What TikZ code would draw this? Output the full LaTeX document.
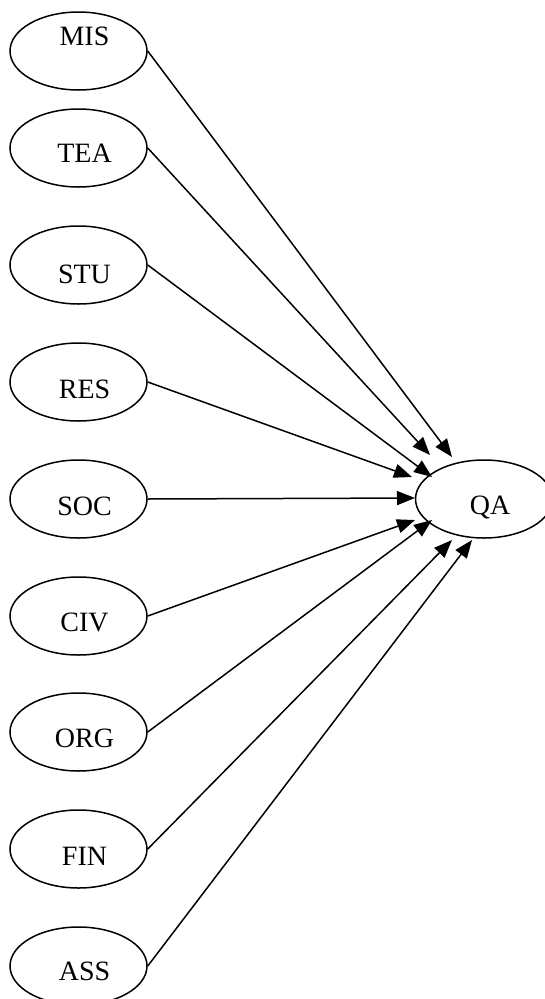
\documentclass[tikz,border=0pt]{standalone}
\usepackage{fontspec}
\setmainfont{Liberation Serif}
\usetikzlibrary{shapes.geometric,arrows.meta}

\tikzset{
  var/.style={draw, ellipse, line width=1.5pt, minimum width=137pt, minimum height=78pt, inner sep=0pt},
  varlabel/.style={font=\fontsize{28}{32}\selectfont, xshift=6pt},
  path/.style={-{Triangle[length=18pt,width=14pt]}, line width=1.5pt}
}

\begin{document}
\begin{tikzpicture}[x=1pt, y=-1pt]
  \clip (0,0) rectangle (545,999);
  \foreach \name/\y/\dy in {MIS/51/15, TEA/148/-5, STU/265/-9, RES/382/-7, SOC/499/-7,
                            CIV/616/-6, ORG/732/-6, FIN/849/-7, ASS/966/-5}
    \node[var, label={[varlabel, yshift=\dy pt]center:\name}] (\name) at (78.5,\y) {};
  \node[var, label={[varlabel, yshift=-8pt]center:QA}] (QA) at (484,499) {};

  \foreach \name/\dx/\dy in {MIS/-32/-42, TEA/-54/-44, STU/-52/-22, RES/-72/-22, SOC/-69/-1,
                             CIV/-69/21, ORG/-52/21, FIN/-32/41, ASS/-12/41}
    \draw[path] (\name.east) -- ([shift={(\dx,\dy)}]QA.center);
\end{tikzpicture}
\end{document}
